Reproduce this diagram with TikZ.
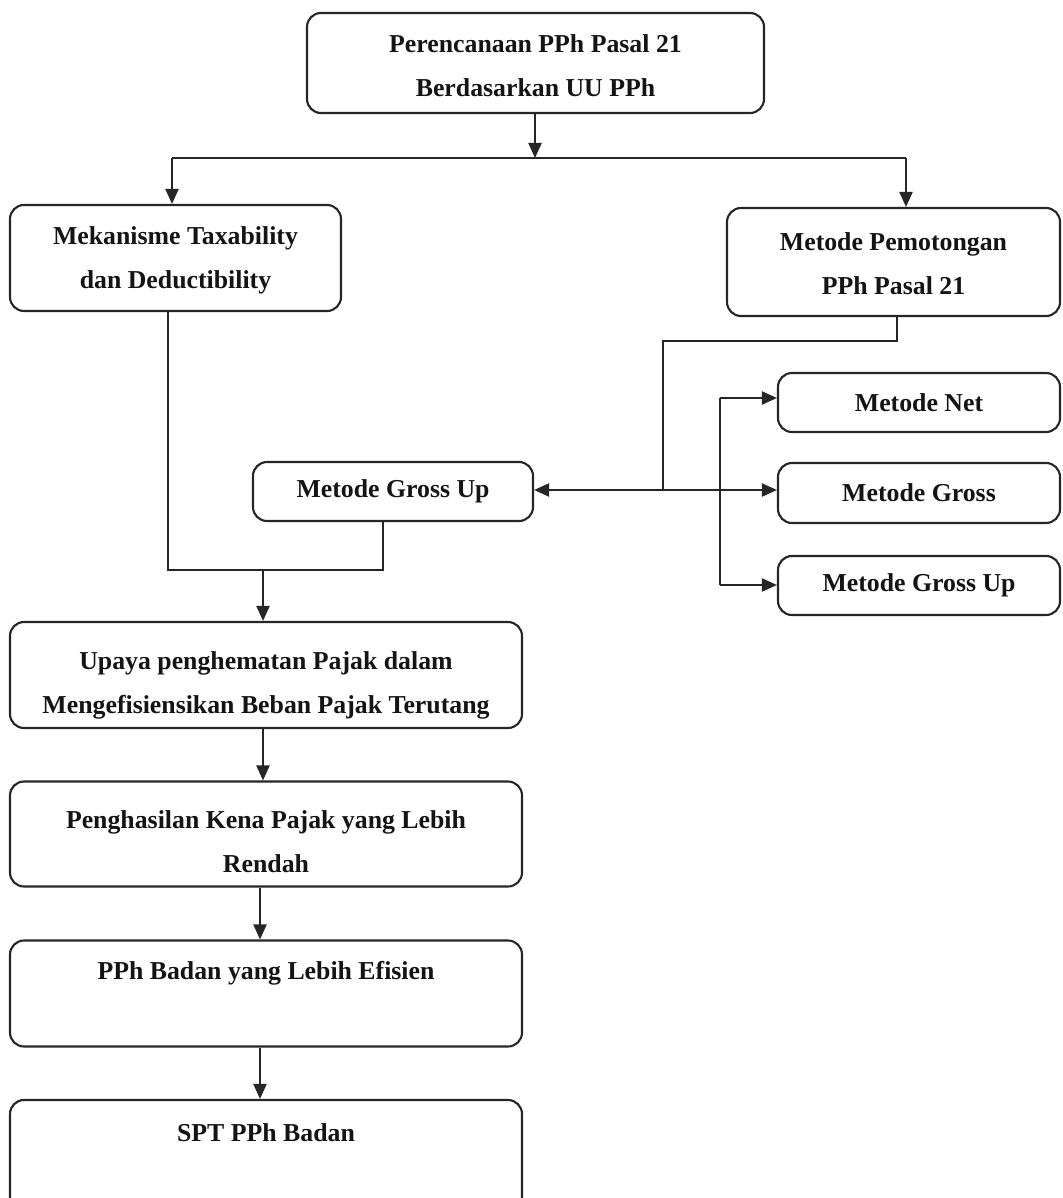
\documentclass[tikz,border=0pt]{standalone}
\usepackage{fontspec}
\setmainfont{Liberation Serif}
\usetikzlibrary{arrows.meta,calc}
\tikzset{
  txt/.style={align=center, inner sep=0pt, font=\bfseries\fontsize{25.8}{44}\selectfont, text=black!92},
  box/.style={txt, draw=black!85, line width=2.1pt, rounded corners=14pt},
  conn/.style={draw=black!85, line width=2.1pt},
  arr/.style={conn, -{Triangle[length=15pt,width=13pt]}}
}
\begin{document}
\begin{tikzpicture}[x=1pt,y=-1pt]
\clip (0,0) rectangle (1062,1198);
\fill[white] (0,0) rectangle (1062,1198);
% boxes
\node[box, minimum width=457pt, minimum height=100pt] (top) at (535.5,63) {};
\node[txt] (top-t) at ($(top.center)+(0,3)$) {Perencanaan PPh Pasal 21\\Berdasarkan UU PPh};
\node[box, minimum width=331pt, minimum height=106pt] (mek) at (175.5,258) {};
\node[txt] (mek-t) at ($(mek.center)+(0,2)$) {Mekanisme Taxability\\dan Deductibility};
\node[box, minimum width=333pt, minimum height=108pt] (met) at (893.5,262) {};
\node[txt] (met-t) at ($(met.center)+(0,2)$) {Metode Pemotongan\\PPh Pasal 21};
\node[box, minimum width=282pt, minimum height=59pt] (mn) at (919,402.5) {Metode Net};
\node[box, minimum width=282pt, minimum height=60pt] (mg) at (919,493) {Metode Gross};
\node[box, minimum width=282pt, minimum height=59pt] (mgu) at (919,585.5) {Metode Gross Up};
\node[box, minimum width=280pt, minimum height=59pt] (gul) at (393,491.5) {Metode Gross Up};
\node[box, minimum width=512pt, minimum height=106pt] (upaya) at (266,675) {};
\node[txt] (upaya-t) at ($(upaya.center)+(0,10)$) {Upaya penghematan Pajak dalam\\Mengefisiensikan Beban Pajak Terutang};
\node[box, minimum width=512pt, minimum height=105pt] (phk) at (266,834) {};
\node[txt] (phk-t) at ($(phk.center)+(0,8)$) {Penghasilan Kena Pajak yang Lebih\\Rendah};
\node[box, minimum width=512pt, minimum height=106pt] (pphb) at (266,993.5) {};
\node[txt] (pphb-t) at ($(pphb.center)+(0,6)$) {PPh Badan yang Lebih Efisien\\\strut};
\node[box, minimum width=512pt, minimum height=112pt] (spt) at (266,1156) {};
\node[txt] (spt-t) at ($(spt.center)+(0,5)$) {SPT PPh Badan\\\strut};
% top split
\coordinate (hs) at (535,158);
\coordinate (hl) at (172,158);
\coordinate (hr) at (906,158);
\draw[arr] (top.south -| hs) -- (hs);
\draw[conn] (hl) -- (hr);
\draw[arr] (hl) -- (mek.north -| hl);
\draw[arr] (hr) -- (met.north -| hr);
% right branch
\coordinate (m1) at (897,341);
\coordinate (j) at (663,490);
\draw[conn] (met.south -| m1) -- (m1) -| (j);
\draw[arr] (j) -- (j -| gul.east);
\draw[arr] (j) -- (j -| mg.west);
\coordinate (v1) at (720,398);
\coordinate (v2) at (720,585);
\draw[conn] (v1) -- (v2);
\draw[arr] (v1) -- (v1 -| mn.west);
\draw[arr] (v2) -- (v2 -| mgu.west);
% left merge
\coordinate (c1) at (168,570);
\coordinate (c2) at (383,570);
\coordinate (c3) at (263,570);
\draw[conn] (mek.south -| c1) -- (c1) -- (c2) -- (c2 |- gul.south);
\draw[arr] (c3) -- (c3 |- upaya.north);
% chain
\coordinate (a1) at (263,0);
\coordinate (a2) at (260,0);
\draw[arr] (upaya.south -| a1) -- (phk.north -| a1);
\draw[arr] (phk.south -| a2) -- (pphb.north -| a2);
\draw[arr] (pphb.south -| a2) -- (spt.north -| a2);
\end{tikzpicture}
\end{document}
